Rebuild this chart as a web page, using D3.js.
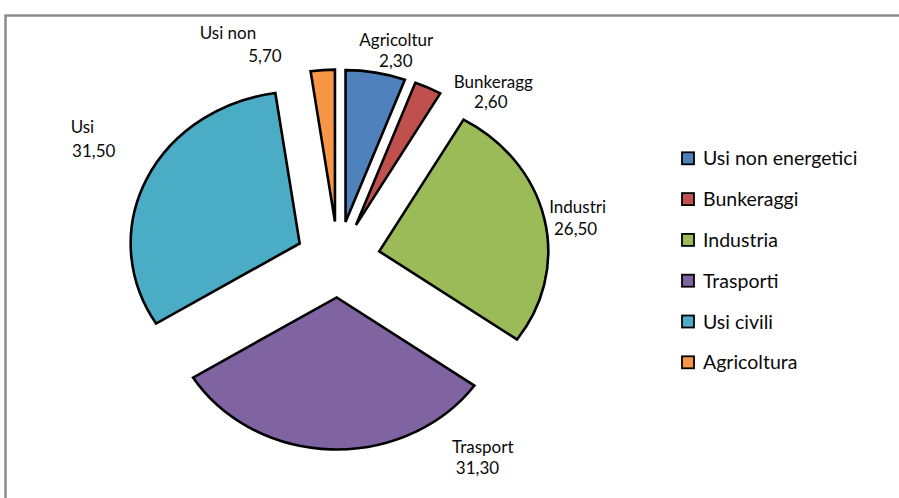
<!DOCTYPE html>
<html>
<head>
<meta charset="utf-8">
<script src="https://cdn.jsdelivr.net/npm/d3@7"></script>
<style>
  body { margin: 0; background: #fff; }
  text { font-family: Lato, "Open Sans", sans-serif; fill: #0a0a0a; }
</style>
</head>
<body>
<div id="chart"></div>
<script>
// data, slice order clockwise from 12 o'clock
var categories = ["Usi non energetici", "Bunkeraggi", "Industria", "Trasporti", "Usi civili", "Agricoltura"];
var values = [5.7, 2.6, 26.5, 31.3, 31.5, 2.3];
var colors = ["#4F81BD", "#C0504D", "#9BBB59", "#8064A2", "#4BACC6", "#F79646"];
// data label texts as printed next to each slice (clipped names)
var labelNames = ["Agricoltur", "Bunkeragg", "Industri", "Trasport", "Usi", "Usi non"];
var labelValues = ["2,30", "2,60", "26,50", "31,30", "31,50", "5,70"];

var width = 899, height = 498;
var cx = 338, cy = 259.5;
var ry = 152, rx = 169;       // the pie is a bit stretched sideways
var explode = 0.25;           // fraction of radius
var labelDist = 1.45;
// per-label nudges: [dx line1, dy line1, dx line2, dy line2]
var nudges = [
  [14.6, 2.9, 14.1, 23.9],
  [50.9, 27.4, 48.4, 47.9],
  [0.2, 0.3, -1.8, 22.6],
  [152.5, -26.5, 147.2, -5.8],
  [-33.4, -33.8, -22.1, -9.8],
  [-92.3, -0.7, -55.3, 22.6]
];

var svg = d3.select("#chart")
  .append("svg")
  .attr("width", width)
  .attr("height", height);

// chart frame (cropped at right and bottom)
svg.append("path")
  .attr("d", "M5.5," + (height + 5) + "V15.5H" + (width + 5))
  .attr("fill", "none")
  .attr("stroke", "#8c8c8c")
  .attr("stroke-width", 2.5);

var pie = d3.pie().sort(null).value(function (d) { return d; });
var arcs = pie(values);

var arc = d3.arc().innerRadius(0).outerRadius(ry);

var pieG = svg.append("g")
  .attr("transform", "translate(" + cx + "," + cy + ") scale(" + (rx / ry) + ",1)");

pieG.selectAll("path")
  .data(arcs)
  .enter()
  .append("path")
  .attr("d", arc)
  .attr("fill", function (d, i) { return colors[i]; })
  .attr("stroke", "#000")
  .attr("stroke-width", 2.6)
  .attr("vector-effect", "non-scaling-stroke")
  .attr("stroke-linejoin", "miter")
  .attr("transform", function (d) {
    var a = (d.startAngle + d.endAngle) / 2;
    return "translate(" + (Math.sin(a) * explode * ry) + "," + (-Math.cos(a) * explode * ry) + ")";
  });

// data labels
arcs.forEach(function (d, i) {
  var a = (d.startAngle + d.endAngle) / 2;
  var ax = cx + Math.sin(a) * labelDist * rx;
  var ay = cy - Math.cos(a) * labelDist * ry;
  var n = nudges[i];
  var g = svg.append("g").attr("class", "label");
  g.append("text")
    .attr("x", ax + n[0]).attr("y", ay + n[1])
    .attr("text-anchor", "middle")
    .attr("font-size", 17)
    .text(labelNames[i]);
  g.append("text")
    .attr("x", ax + n[2]).attr("y", ay + n[3])
    .attr("text-anchor", "middle")
    .attr("font-size", 17)
    .text(labelValues[i]);
});

// legend
var legendY = d3.scalePoint()
  .domain(categories)
  .range([158.3, 362.3]);

var legend = svg.append("g");
var item = legend.selectAll("g")
  .data(categories)
  .enter()
  .append("g")
  .attr("transform", function (d) { return "translate(682," + legendY(d) + ")"; });

item.append("rect")
  .attr("x", 0).attr("y", -6)
  .attr("width", 12).attr("height", 12)
  .attr("fill", function (d, i) { return colors[i]; })
  .attr("stroke", "#000")
  .attr("stroke-width", 1.8);

item.append("text")
  .attr("x", 21).attr("y", 7)
  .attr("font-size", 19.5)
  .text(function (d) { return d; });
</script>
</body>
</html>
